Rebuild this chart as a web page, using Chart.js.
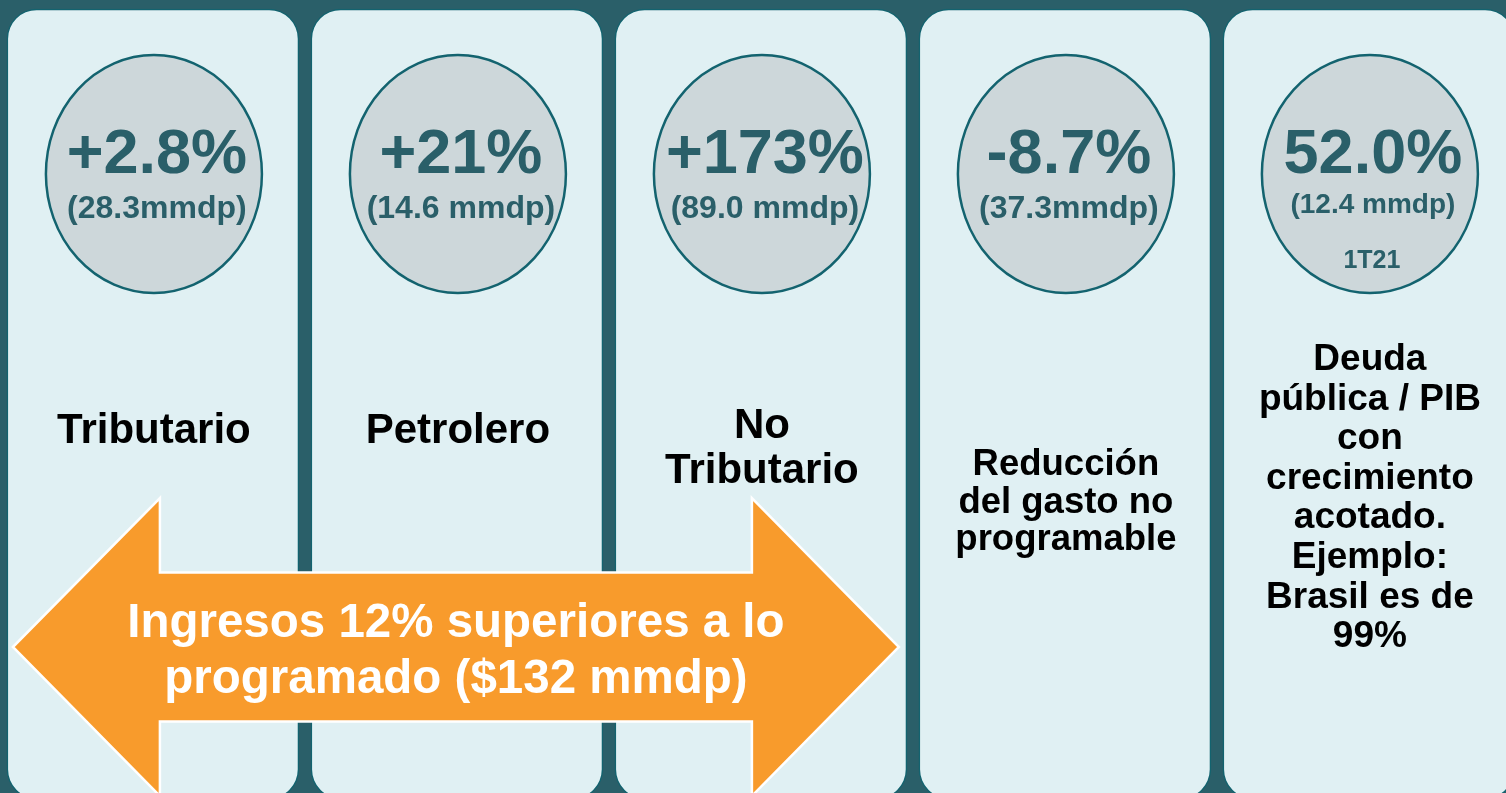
<!DOCTYPE html>
<html>
<head>
<meta charset="utf-8">
<script src="https://cdn.jsdelivr.net/npm/chart.js@4"></script>
<style>
  html, body { margin: 0; padding: 0; background: #2a5f69; }
  #wrap { width: 1506px; height: 793px; }
</style>
</head>
<body>
<div id="wrap"><canvas id="myChart" width="1506" height="793"></canvas></div>
<script>
let ctx = document.getElementById('myChart').getContext('2d');

// data
let categories = [
    ['Tributario'],
    ['Petrolero'],
    ['No', 'Tributario'],
    ['Reducción', 'del gasto no', 'programable'],
    ['Deuda', 'pública / PIB', 'con', 'crecimiento', 'acotado.', 'Ejemplo:', 'Brasil es de', '99%']
];
let changeLabels = ['+2.8%', '+21%', '+173%', '-8.7%', '52.0%'];
let amountLabels = ['(28.3mmdp)', '(14.6 mmdp)', '(89.0 mmdp)', '(37.3mmdp)', '(12.4 mmdp)'];
let periodLabels = ['', '', '', '', '1T21'];
let arrowLines = ['Ingresos 12% superiores a lo', 'programado ($132 mmdp)'];

// styling per column (first baseline, line step, font size)
let labelTop = [443, 443, 438, 475, 370];
let labelStep = [45, 45, 45, 37.5, 39.6];
let labelSize = [42, 42, 42, 36.5, 37];
let amountSize = [32, 32, 32, 32, 28];
let amountBase = [218, 218, 218, 218, 213];

let font = '"Liberation Sans", Arial, sans-serif';
let teal = '#2a5f69';

let panelPlugin = {
    id: 'slide',
    beforeDraw(chart) {
        let c = chart.ctx;
        c.save();
        c.fillStyle = teal;
        c.fillRect(0, 0, chart.width, chart.height);
        c.restore();
    },
    afterDatasetsDraw(chart) {
        let c = chart.ctx;
        let bars = chart.getDatasetMeta(0).data;
        c.save();
        bars.forEach((bar, i) => {
            let cx = bar.x;
            // ellipse
            c.beginPath();
            c.ellipse(cx + 1, 174, 108, 119, 0, 0, Math.PI * 2);
            c.fillStyle = '#cdd7da';
            c.fill();
            c.lineWidth = 2.5;
            c.strokeStyle = '#13636f';
            c.stroke();

            c.textAlign = 'center';
            c.textBaseline = 'alphabetic';
            c.fillStyle = teal;
            c.font = 'bold 63px ' + font;
            c.fillText(changeLabels[i], cx + 4, 173);
            c.font = 'bold ' + amountSize[i] + 'px ' + font;
            c.fillText(amountLabels[i], cx + 4, amountBase[i]);
            if (periodLabels[i]) {
                c.font = 'bold 25px ' + font;
                c.fillText(periodLabels[i], cx + 3, 268);
            }

            // category label
            c.fillStyle = '#000000';
            c.font = 'bold ' + labelSize[i] + 'px ' + font;
            categories[i].forEach((line, k) => {
                c.fillText(line, cx + 1, labelTop[i] + k * labelStep[i]);
            });
        });

        // double arrow across the income columns
        let left = bars[0].x - bars[0].width / 2 + 6;
        let right = bars[2].x + bars[2].width / 2 - 8;
        let mid = 647, head = 147, shaft = 74.5, half = 149;
        c.beginPath();
        c.moveTo(left, mid);
        c.lineTo(left + head, mid - half);
        c.lineTo(left + head, mid - shaft);
        c.lineTo(right - head, mid - shaft);
        c.lineTo(right - head, mid - half);
        c.lineTo(right, mid);
        c.lineTo(right - head, mid + half);
        c.lineTo(right - head, mid + shaft);
        c.lineTo(left + head, mid + shaft);
        c.lineTo(left + head, mid + half);
        c.closePath();
        c.fillStyle = '#f89b2c';
        c.fill();
        c.lineWidth = 2.5;
        c.strokeStyle = '#ffffff';
        c.stroke();

        c.fillStyle = '#ffffff';
        c.font = 'bold 47.5px ' + font;
        let ax = (left + right) / 2;
        arrowLines.forEach((line, k) => {
            c.fillText(line, ax, 637 + k * 56);
        });
        c.restore();
    }
};

let myChart = new Chart(ctx, {
    type: 'bar',
    data: {
        datasets: [{
            label: 'panels',
            data: categories.map((c, i) => ({ x: i, y: [-0.008, 1] })),
            backgroundColor: '#e0f0f3',
            borderColor: '#13636f',
            borderWidth: 1.5,
            borderRadius: 30,
            borderSkipped: false,
            barThickness: 292,
            clip: false
        }]
    },
    options: {
        responsive: false,
        animation: false,
        layout: { padding: { top: 9, bottom: 0, left: 0, right: 0 } },
        scales: {
            x: { type: 'linear', offset: false, min: -0.503, max: 4.451, display: false },
            y: { min: 0, max: 1, display: false }
        },
        plugins: {
            legend: { display: false },
            tooltip: { enabled: false }
        }
    },
    plugins: [panelPlugin]
});
</script>
</body>
</html>
